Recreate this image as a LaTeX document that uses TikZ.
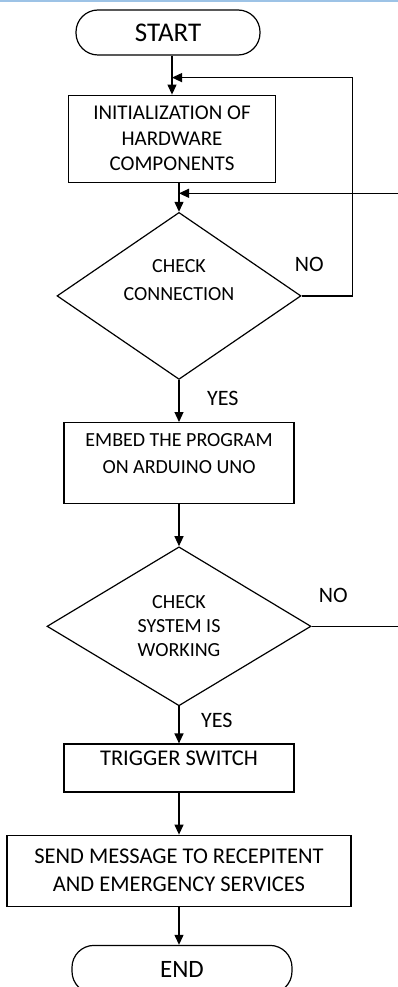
\documentclass[tikz,border=0pt]{standalone}
\usepackage{fontspec}
\setmainfont{Carlito}
\usetikzlibrary{arrows.meta, positioning, shapes.geometric}
\definecolor{barblue}{RGB}{157,195,230}

\begin{document}
\begin{tikzpicture}[
  term/.style={rectangle, rounded corners=22pt, draw, line width=1.2pt, minimum width=184pt, minimum height=45pt, font=\fontsize{27}{30}\selectfont},
  box/.style={rectangle, draw, line width=1.2pt, minimum width=230pt, align=center, font=\fontsize{20}{27}\selectfont},
  decision/.style={diamond, draw, line width=1.2pt, align=center, inner sep=2pt, font=\fontsize{20}{28}\selectfont},
  lbl/.style={inner sep=0pt, font=\fontsize{22}{24}\selectfont},
  edge/.style={-{Triangle[length=10pt,width=9pt]}, line width=1.2pt},
  link/.style={line width=1.2pt}
]
\useasboundingbox (0,0) rectangle (398pt,-987pt);
\fill[barblue] (0,0) rectangle (398pt,-2.5pt);
\coordinate (rim) at (398pt,0);

\node[term] (start) at (168pt,-32.5pt) {START};
\node[box, minimum width=207pt, minimum height=87pt, font=\fontsize{21}{25.5}\selectfont,
  below=39pt of start, xshift=4pt] (init) {INITIALIZATION OF\\HARDWARE\\COMPONENTS};
\node[decision, minimum width=244pt, minimum height=167pt, aspect=1.46, text depth=31pt,
  below=29pt of init, xshift=7pt] (check1) {CHECK\\CONNECTION};
\node[box, minimum height=81pt, text depth=20pt, below=42pt of check1] (embed) {EMBED THE PROGRAM\\ON ARDUINO UNO};
\node[decision, minimum width=264pt, minimum height=159pt, aspect=1.66, font=\fontsize{20}{24}\selectfont,
  below=42pt of embed] (check2) {CHECK\\SYSTEM IS\\WORKING};
\node[box, minimum height=48pt, text depth=20pt, font=\fontsize{22.5}{28}\selectfont,
  below=37pt of check2] (trigger) {TRIGGER SWITCH};
\node[box, minimum width=344pt, minimum height=71pt, font=\fontsize{22.5}{28}\selectfont,
  below=42pt of trigger] (send) {SEND MESSAGE TO RECEPITENT\\AND EMERGENCY SERVICES};
\node[term, minimum width=220pt, minimum height=48pt, font=\fontsize{25}{30}\selectfont,
  below=38pt of send, xshift=3pt] (end) {END};

\coordinate (join1) at ([yshift=17pt]init.north);
\coordinate (join2) at ([yshift=18.5pt]check1.north);

\draw[edge] (start.south -| init) -- (init);
\draw[edge] (init.south -| check1) -- (check1);
\draw[edge] (check1) -- node[lbl, right=27.5pt, pos=0.43] (yes1) {YES} (embed);
\draw[edge] (embed) -- (check2);
\draw[edge] (check2) -- node[lbl, right=21.5pt, pos=0.38] (yes2) {YES} (trigger);
\draw[edge] (trigger) -- (send);
\draw[edge] (send) -- (send |- end.north);

% loops back for NO
\draw[edge] (check1.east) -- node[lbl, above=24pt, pos=0.15] (no1) {NO} ++(51pt,0) |- (join1);
\draw[link] (check2.east) -- node[lbl, above=23pt, pos=0.25] (no2) {NO} (check2.east -| rim);
\draw[edge] (rim |- join2) -- (join2);
\end{tikzpicture}
\end{document}
